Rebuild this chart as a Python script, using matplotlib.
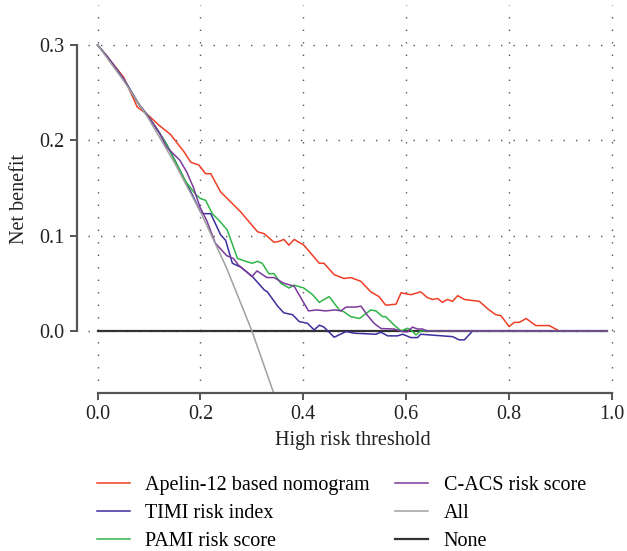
import matplotlib
matplotlib.use("Agg")
import matplotlib.pyplot as plt

plt.rcParams['font.family'] = ['Liberation Serif', 'DejaVu Serif']

# threshold / net benefit
t_apelin = [0.0, 0.02, 0.051, 0.077, 0.097, 0.119, 0.142, 0.168, 0.181, 0.197, 0.210, 0.220, 0.239,
            0.278, 0.311, 0.324, 0.343, 0.353, 0.362, 0.372, 0.382, 0.401, 0.431, 0.440, 0.460,
            0.479, 0.492, 0.512, 0.531, 0.547, 0.560, 0.580, 0.590, 0.609, 0.628, 0.641, 0.651,
            0.661, 0.670, 0.680, 0.690, 0.700, 0.713, 0.742, 0.761, 0.774, 0.784, 0.800, 0.810,
            0.820, 0.833, 0.852, 0.878, 0.897, 0.99]
nb_apelin = [0.300, 0.287, 0.266, 0.235, 0.227, 0.216, 0.206, 0.188, 0.177, 0.174, 0.165, 0.165, 0.146,
             0.125, 0.104, 0.102, 0.093, 0.094, 0.096, 0.090, 0.096, 0.090, 0.071, 0.071, 0.059,
             0.055, 0.056, 0.052, 0.041, 0.036, 0.027, 0.028, 0.040, 0.038, 0.041, 0.035, 0.033,
             0.034, 0.030, 0.033, 0.031, 0.037, 0.033, 0.031, 0.022, 0.017, 0.016, 0.0045, 0.009,
             0.009, 0.013, 0.0056, 0.0056, 0.0, 0.0]

t_timi = [0.0, 0.02, 0.05, 0.08, 0.10, 0.12, 0.135, 0.170, 0.186, 0.200, 0.206, 0.220, 0.239, 0.249,
          0.262, 0.278, 0.301, 0.324, 0.330, 0.350, 0.362, 0.379, 0.392, 0.408, 0.421, 0.431,
          0.440, 0.460, 0.483, 0.499, 0.541, 0.551, 0.564, 0.583, 0.593, 0.609, 0.622, 0.628,
          0.690, 0.703, 0.713, 0.729, 0.99]
nb_timi = [0.300, 0.287, 0.265, 0.238, 0.224, 0.208, 0.195, 0.158, 0.141, 0.125, 0.123, 0.123, 0.101, 0.095,
           0.071, 0.067, 0.057, 0.043, 0.041, 0.026, 0.019, 0.017, 0.0098, 0.008, 0.001, 0.006,
           0.004, -0.0066, -0.0007, -0.0024, -0.0035, -0.0014, -0.0052, -0.0052, -0.0035, -0.007, -0.007, -0.0035,
           -0.006, -0.0094, -0.0094, 0.0, 0.0]

t_pami = [0.0, 0.02, 0.05, 0.08, 0.10, 0.12, 0.135, 0.171, 0.191, 0.200, 0.210, 0.223, 0.236, 0.252,
          0.272, 0.288, 0.301, 0.311, 0.320, 0.333, 0.343, 0.356, 0.372, 0.382, 0.401, 0.418,
          0.431, 0.450, 0.470, 0.479, 0.492, 0.509, 0.531, 0.541, 0.554, 0.560, 0.576, 0.590,
          0.602, 0.609, 0.619, 0.628, 0.99]
nb_pami = [0.300, 0.287, 0.265, 0.238, 0.224, 0.208, 0.195, 0.157, 0.143, 0.139, 0.137, 0.123, 0.116, 0.106,
           0.076, 0.073, 0.071, 0.073, 0.071, 0.060, 0.060, 0.050, 0.045, 0.048, 0.045, 0.038,
           0.030, 0.036, 0.022, 0.020, 0.015, 0.013, 0.022, 0.021, 0.015, 0.015, 0.0063, 0.0,
           0.0028, 0.001, -0.0042, 0.0, 0.0]

t_cacs = [0.0, 0.02, 0.05, 0.08, 0.10, 0.12, 0.134, 0.160, 0.173, 0.186, 0.199, 0.212, 0.229, 0.251,
          0.264, 0.274, 0.290, 0.300, 0.310, 0.329, 0.343, 0.362, 0.375, 0.382, 0.398, 0.410,
          0.426, 0.443, 0.463, 0.473, 0.483, 0.502, 0.512, 0.525, 0.538, 0.551, 0.576, 0.596,
          0.602, 0.612, 0.622, 0.631, 0.641, 0.99]
nb_cacs = [0.300, 0.287, 0.265, 0.238, 0.224, 0.208, 0.193, 0.179, 0.167, 0.151, 0.130, 0.116, 0.092, 0.079,
           0.076, 0.069, 0.062, 0.057, 0.063, 0.056, 0.056, 0.050, 0.048, 0.047, 0.032, 0.021,
           0.022, 0.021, 0.022, 0.021, 0.025, 0.025, 0.026, 0.016, 0.0077, 0.0025, 0.002, -0.001,
           -0.001, 0.004, 0.002, 0.002, 0.0, 0.0]

t_all = [0.0, 0.05, 0.10, 0.15, 0.20, 0.25, 0.30, 0.35]
nb_all = [0.300, 0.263, 0.222, 0.176, 0.125, 0.067, 0.0, -0.077]

t_none = [0.0, 0.99]
nb_none = [0.0, 0.0]

labels = ["Apelin-12 based nomogram", "TIMI risk index", "PAMI risk score",
          "C-ACS risk score", "All", "None"]

fs = 14.5

fig = plt.figure(figsize=(6.27, 5.51), dpi=100)
ax = fig.add_axes([0.140, 0.287, 0.846, 0.704])

ax.plot(t_apelin, nb_apelin, color="#ef3e26", lw=1.1, label=labels[0])
ax.plot(t_timi, nb_timi, color="#3a2f9c", lw=1.1, label=labels[1])
ax.plot(t_pami, nb_pami, color="#2fb548", lw=1.1, label=labels[2])
ax.plot(t_cacs, nb_cacs, color="#7b3a9c", lw=1.1, label=labels[3])
ax.plot(t_all, nb_all, color="#a0a0a0", lw=1.1, label=labels[4])
ax.plot(t_none, nb_none, color="#333333", lw=1.6, label=labels[5], zorder=1.9)

ax.set_xlim(-0.019, 1.012)
ax.set_ylim(-0.065, 0.342)
ax.set_xticks([0.0, 0.2, 0.4, 0.6, 0.8, 1.0])
ax.set_yticks([0.0, 0.1, 0.2, 0.3])
ax.set_xticklabels(["0.0", "0.2", "0.4", "0.6", "0.8", "1.0"])
ax.set_yticklabels(["0.0", "0.1", "0.2", "0.3"])

ax.grid(True, color="#555555", linestyle=(0, (1, 8)), lw=1.0)
ax.set_axisbelow(True)

for s in ["top", "right"]:
    ax.spines[s].set_visible(False)
ax.spines["left"].set_position(("outward", 8))
ax.spines["left"].set_bounds(0.0, 0.3)
ax.spines["bottom"].set_bounds(0.0, 1.0)
for s in ["left", "bottom"]:
    ax.spines[s].set_color("#555555")
    ax.spines[s].set_linewidth(1.6)
ax.tick_params(axis="both", colors="#555555", width=1.4, length=5, labelsize=fs,
               labelcolor="#222222")

ax.set_xlabel("High risk threshold", fontsize=fs, color="#222222", labelpad=5)
ax.set_ylabel("Net benefit", fontsize=fs, color="#222222", labelpad=8)

fig.legend(loc="upper left", bbox_to_anchor=(0.142, 0.151), ncol=2, frameon=False,
           fontsize=fs, handlelength=1.65, columnspacing=1.25, labelspacing=0.45,
           handletextpad=0.75, borderaxespad=0)

fig.savefig("out.png", dpi=100)
